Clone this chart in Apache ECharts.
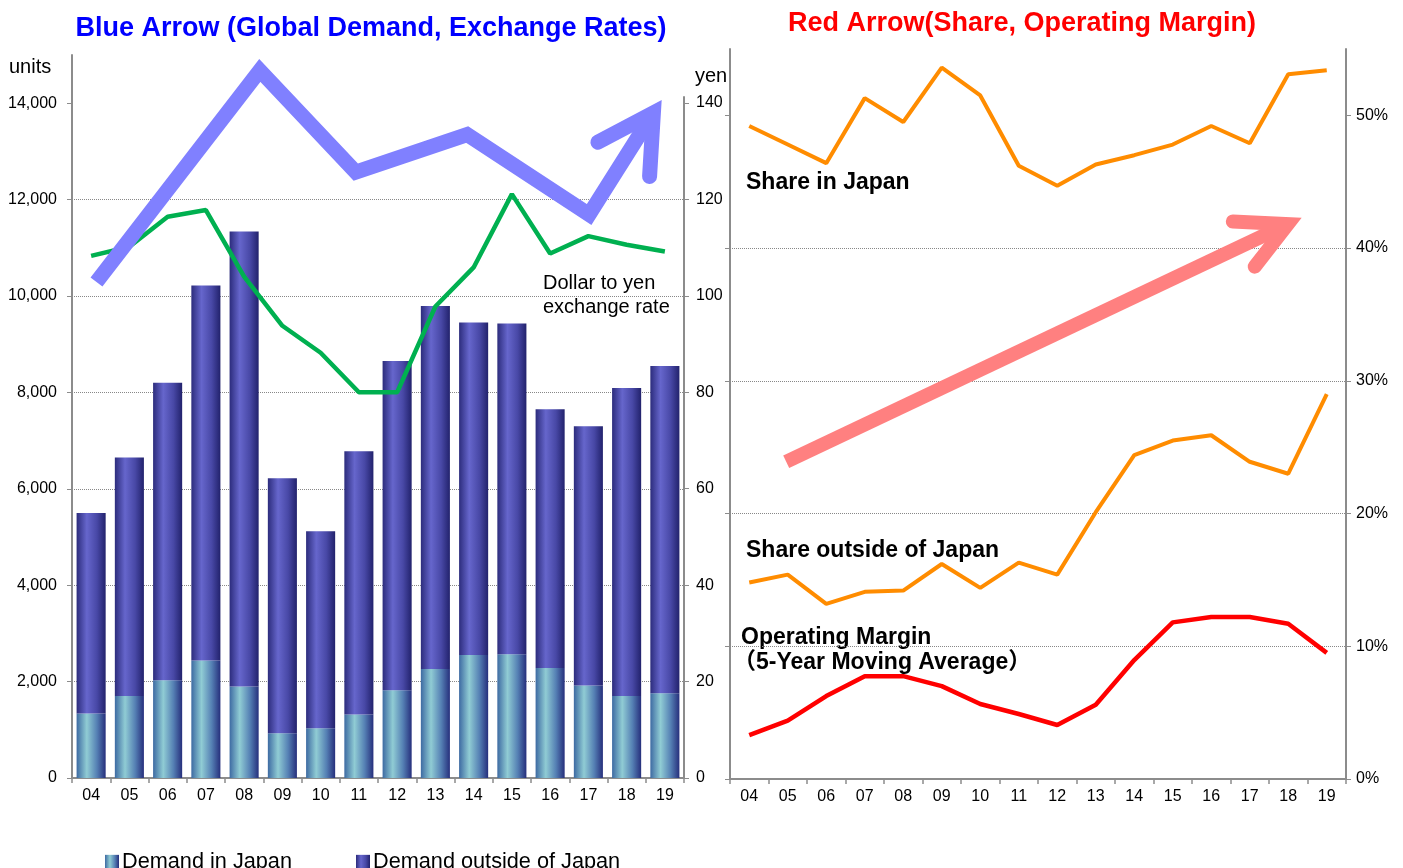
<!DOCTYPE html>
<html>
<head>
<meta charset="utf-8">
<script src="https://cdn.jsdelivr.net/npm/echarts@6/dist/echarts.min.js"></script>
<style>
  html, body { margin: 0; padding: 0; background: #fff; }
  #main { width: 1403px; height: 868px; }
</style>
</head>
<body>
<div id="main"></div>
<script>
// 年度
var years = ['04','05','06','07','08','09','10','11','12','13','14','15','16','17','18','19'];
// 需要 (units)
var demandJapan   = [1340, 1700, 2030, 2440, 1900,  930, 1030, 1320, 1820, 2260, 2550, 2570, 2280, 1920, 1700, 1760];
var demandOutside = [4160, 4950, 6170, 7780, 9440, 5290, 4090, 5460, 6830, 7530, 6900, 6860, 5370, 5380, 6390, 6790];
// ドル円
var yenRate = [108.3, 110.2, 116.4, 117.8, 104.0, 93.8, 88.2, 80.0, 80.0, 97.8, 105.9, 121.1, 108.8, 112.4, 110.6, 109.2];
// シェア・利益率 (%)
var shareJapan   = [49.2, 47.8, 46.4, 51.3, 49.5, 53.6, 51.5, 46.2, 44.7, 46.3, 47.0, 47.8, 49.2, 47.9, 53.1, 53.4];
var shareOutside = [14.8, 15.4, 13.2, 14.1, 14.2, 16.2, 14.4, 16.3, 15.4, 20.1, 24.4, 25.5, 25.9, 23.9, 23.0, 29.0];
var opMargin     = [3.3, 4.4, 6.25, 7.75, 7.75, 7.0, 5.65, 4.9, 4.07, 5.6, 8.96, 11.8, 12.2, 12.2, 11.7, 9.5];
// 軸の目盛り
var unitTicks = [0, 2000, 4000, 6000, 8000, 10000, 12000, 14000];
var yenTicks  = [0, 20, 40, 60, 80, 100, 120, 140];
var pctTicks  = [0, 10, 20, 30, 40, 50];
// 矢印 (x = 年度index, y = 軸の値)
var blueArrowX = [0.14, 4.41, 6.92, 9.83, 13.02, 14.7];
var blueArrowY = [10290, 14680, 12570, 13350, 11690, 13800];
var blueHeadX = [13.25, 14.7, 14.6];
var blueHeadY = [13190, 13800, 12480];
var redArrowX = [0.96, 13.99];
var redArrowY = [23.9, 41.8];
var redHeadX = [12.56, 13.99, 13.13];
var redHeadY = [42.0, 41.8, 38.6];

function pairs(xs, ys) { return xs.map(function (x, i) { return [x, ys[i]]; }); }

var FONT = '"Liberation Sans", Arial, "Noto Sans CJK JP", sans-serif';
var AXIS_GRAY = '#8c8c8c';

var gJapan = new echarts.graphic.LinearGradient(0, 0, 1, 0, [
  { offset: 0, color: '#3d6aa2' }, { offset: 0.35, color: '#90ccd4' },
  { offset: 0.7, color: '#5580b4' }, { offset: 1, color: '#262f7c' }
]);
var gOutside = new echarts.graphic.LinearGradient(0, 0, 1, 0, [
  { offset: 0, color: '#2c2c7c' }, { offset: 0.35, color: '#6666cc' },
  { offset: 0.7, color: '#4848a6' }, { offset: 1, color: '#22226c' }
]);

function catAxis(gridIndex, show) {
  return {
    type: 'category', gridIndex: gridIndex, data: years, show: show,
    axisLine: { onZero: false, lineStyle: { color: AXIS_GRAY, width: 2 } },
    axisTick: { show: true, length: 5, lineStyle: { color: AXIS_GRAY, width: 1.5 } },
    axisLabel: { color: '#000', fontSize: 16, fontFamily: FONT, margin: 10 }
  };
}
function hiddenX(gridIndex) {
  return { type: 'value', gridIndex: gridIndex, min: -0.5, max: 15.5, show: false };
}
function valAxis(gridIndex, pos, max, interval, ticks, labelOpt, showSplit) {
  var ax = {
    type: 'value', gridIndex: gridIndex, position: pos, min: 0, max: max,
    axisLine: { show: true, onZero: false, lineStyle: { color: AXIS_GRAY, width: 2 } },
    axisTick: { show: true, length: 5, customValues: ticks, lineStyle: { color: AXIS_GRAY } },
    axisLabel: labelOpt,
    splitLine: showSplit
      ? { show: true, showMaxLine: false, lineStyle: { color: '#888', type: 'dotted', width: 1 } }
      : { show: false }
  };
  if (interval) ax.interval = interval;
  return ax;
}

var myChart = echarts.init(document.getElementById('main'));
myChart.setOption({
  animation: false,
  backgroundColor: '#fff',
  grid: [
    { left: 72, right: 719, top: 55, bottom: 90 },
    { left: 730, right: 57, top: 49, bottom: 89 },
    // 円の軸 (上端が短い)
    { left: 72, right: 719, top: 97, bottom: 90 }
  ],
  xAxis: [catAxis(0, true), catAxis(1, true), hiddenX(0), hiddenX(1), catAxis(2, false)],
  yAxis: [
    valAxis(0, 'left', 15000, 2000, unitTicks, {
      customValues: unitTicks, color: '#000', fontSize: 16, fontFamily: FONT, margin: 15,
      formatter: function (v) { return v.toLocaleString('en-US'); } }, true),
    valAxis(2, 'right', 141.25, null, yenTicks, {
      customValues: yenTicks, color: '#000', fontSize: 16, fontFamily: FONT, margin: 12 }, false),
    valAxis(1, 'left', 55, 10, pctTicks, { show: false }, false),
    valAxis(1, 'right', 55, 10, pctTicks, {
      customValues: pctTicks, color: '#000', fontSize: 16, fontFamily: FONT, margin: 10,
      formatter: '{value}%' }, true)
  ],
  legend: [
    { left: 105, top: 851, padding: 0, icon: 'rect', itemWidth: 14, itemHeight: 14, data: ['Demand in Japan'],
      textStyle: { fontSize: 21.7, fontFamily: FONT, color: '#000', padding: [0, 0, 0, -2] } },
    { left: 356, top: 851, padding: 0, icon: 'rect', itemWidth: 14, itemHeight: 14, data: ['Demand outside of Japan'],
      textStyle: { fontSize: 21.7, fontFamily: FONT, color: '#000', padding: [0, 0, 0, -2] } }
  ],
  series: [
    { name: 'Demand in Japan', type: 'bar', xAxisIndex: 0, yAxisIndex: 0, stack: 'demand',
      barCategoryGap: '24%', itemStyle: { color: gJapan }, data: demandJapan },
    { name: 'Demand outside of Japan', type: 'bar', xAxisIndex: 0, yAxisIndex: 0, stack: 'demand',
      barCategoryGap: '24%', itemStyle: { color: gOutside }, data: demandOutside },
    { name: 'Dollar to yen', type: 'line', xAxisIndex: 4, yAxisIndex: 1, data: yenRate,
      symbol: 'none', z: 3, lineStyle: { color: '#00b050', width: 4.5 } },
    { name: 'blueArrow', type: 'line', xAxisIndex: 2, yAxisIndex: 0, data: pairs(blueArrowX, blueArrowY),
      symbol: 'none', z: 4, silent: true, clip: false,
      lineStyle: { color: '#8080ff', width: 15, cap: 'butt', join: 'miter' } },
    { name: 'blueHead', type: 'line', xAxisIndex: 2, yAxisIndex: 0, data: pairs(blueHeadX, blueHeadY),
      symbol: 'none', z: 4, silent: true, clip: false,
      lineStyle: { color: '#8080ff', width: 15, cap: 'round', join: 'miter' } },
    { name: 'Share in Japan', type: 'line', xAxisIndex: 1, yAxisIndex: 3, data: shareJapan,
      symbol: 'none', lineStyle: { color: '#ff8c00', width: 4 } },
    { name: 'Share outside of Japan', type: 'line', xAxisIndex: 1, yAxisIndex: 3, data: shareOutside,
      symbol: 'none', lineStyle: { color: '#ff8c00', width: 4 } },
    { name: 'Operating Margin', type: 'line', xAxisIndex: 1, yAxisIndex: 3, data: opMargin,
      symbol: 'none', lineStyle: { color: '#ff0000', width: 4.5 } },
    { name: 'redArrow', type: 'line', xAxisIndex: 3, yAxisIndex: 3, data: pairs(redArrowX, redArrowY),
      symbol: 'none', z: 1, silent: true, clip: false,
      lineStyle: { color: '#ff8080', width: 14, cap: 'butt' } },
    { name: 'redHead', type: 'line', xAxisIndex: 3, yAxisIndex: 3, data: pairs(redHeadX, redHeadY),
      symbol: 'none', z: 1, silent: true, clip: false,
      lineStyle: { color: '#ff8080', width: 14, cap: 'round', join: 'miter' } }
  ],
  graphic: [
    { type: 'text', x: 371, y: 29, style: { text: 'Blue Arrow (Global Demand, Exchange Rates)',
      font: 'bold 27px ' + FONT, fill: '#0000ff', align: 'center', verticalAlign: 'middle' } },
    { type: 'text', x: 1022, y: 24, style: { text: 'Red Arrow(Share, Operating Margin)',
      font: 'bold 27px ' + FONT, fill: '#ff0000', align: 'center', verticalAlign: 'middle' } },
    { type: 'text', x: 9, y: 67, style: { text: 'units', font: '20px ' + FONT, fill: '#000', verticalAlign: 'middle' } },
    { type: 'text', x: 695, y: 76, style: { text: 'yen', font: '20px ' + FONT, fill: '#000', verticalAlign: 'middle' } },
    { type: 'text', x: 543, y: 283, style: { text: 'Dollar to yen', font: '20px ' + FONT, fill: '#000', verticalAlign: 'middle' } },
    { type: 'text', x: 543, y: 307, style: { text: 'exchange rate', font: '20px ' + FONT, fill: '#000', verticalAlign: 'middle' } },
    { type: 'text', x: 746, y: 183, style: { text: 'Share in Japan', font: 'bold 23px ' + FONT, fill: '#000', verticalAlign: 'middle' } },
    { type: 'text', x: 746, y: 551, style: { text: 'Share outside of Japan', font: 'bold 23px ' + FONT, fill: '#000', verticalAlign: 'middle' } },
    { type: 'text', x: 741, y: 638, style: { text: 'Operating Margin', font: 'bold 23px ' + FONT, fill: '#000', verticalAlign: 'middle' } },
    { type: 'text', x: 733, y: 663, style: { text: '（5-Year Moving Average）', font: 'bold 23px ' + FONT, fill: '#000', verticalAlign: 'middle' } }
  ]
});
</script>
</body>
</html>
